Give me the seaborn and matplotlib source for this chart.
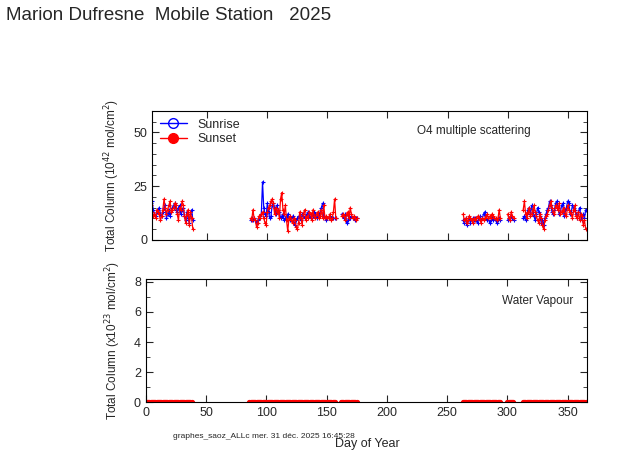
import matplotlib
matplotlib.use("Agg")
import matplotlib.pyplot as plt
import seaborn as sns
import pandas as pd
from matplotlib.ticker import MultipleLocator
from matplotlib.lines import Line2D

sns.set_style("ticks")
plt.rcParams['font.family'] = ['Liberation Sans', 'DejaVu Sans']

# day ranges of the observation periods
days = (list(range(1, 39)) + list(range(86, 158)) + list(range(162, 176))
        + list(range(263, 295)) + list(range(300, 306)) + list(range(313, 366)))
segment_starts = [1, 86, 162, 263, 300, 313]

sunrise = [2, 8, 17, 18, 14, 12, 11, 13, 14, 15, 12, 11, 13, 15, 16, 10, 12, 14, 11, 13,
           15, 16, 17, 14, 13, 15, 16, 12, 14, 15, 11, 9, 13, 10, 8, 12, 14, 9,
           9, 10, 9, 10, 9, 8, 9, 10, 11, 12, 27, 15, 12, 11, 17, 13, 10, 11, 16, 17,
           15, 12, 16, 14, 13, 10, 11, 12, 9, 10, 11, 12, 10, 9, 10, 11, 8, 7, 9, 10,
           11, 10, 9, 12, 11, 10, 11, 12, 13, 11, 10, 12, 11, 13, 12, 10, 11, 12, 13, 15,
           17, 11, 10, 9, 10, 10, 11, 10, 10, 10, 10, 10,
           12, 11, 10, 12, 8, 9, 11, 10, 11, 10, 10, 9, 10, 10,
           9, 8, 10, 7, 9, 10, 8, 9, 10, 9, 10, 9, 8, 10, 11, 9, 10, 12, 13, 10,
           9, 10, 8, 9, 10, 9, 10, 9, 8, 9, 10, 9,
           9, 10, 9, 11, 10, 9,
           10, 11, 9, 12, 14, 15, 12, 16, 13, 11, 9, 12, 15, 13, 11, 8, 9, 7, 10, 12,
           14, 15, 18, 16, 13, 12, 14, 17, 18, 15, 12, 13, 16, 17, 11, 14, 15, 18, 17, 12,
           13, 16, 15, 14, 12, 10, 13, 15, 11, 9, 12, 10, 14]
sunset = [15, 17, 16, 13, 11, 12, 10, 14, 13, 12, 9, 11, 14, 19, 15, 12, 14, 16, 18, 13,
          14, 15, 17, 16, 12, 9, 15, 14, 18, 16, 11, 8, 12, 14, 7, 13, 10, 5,
          10, 9, 14, 10, 9, 6, 8, 11, 10, 12, 13, 10, 8, 7, 13, 15, 16, 18, 19, 17,
          12, 15, 13, 14, 10, 19, 22, 14, 12, 16, 9, 4, 10, 11, 9, 8, 10, 9, 6, 5,
          8, 13, 10, 7, 12, 14, 9, 11, 10, 13, 12, 9, 14, 11, 10, 12, 13, 10, 11, 14,
          10, 16, 10, 11, 10, 10, 12, 9, 10, 13, 19, 10,
          11, 12, 11, 9, 12, 13, 10, 15, 12, 10, 11, 10, 9, 10,
          12, 9, 10, 8, 9, 11, 10, 9, 8, 10, 9, 10, 11, 10, 9, 8, 10, 9, 10, 11,
          12, 10, 11, 10, 12, 11, 10, 10, 9, 10, 14, 10,
          12, 10, 9, 13, 11, 10,
          14, 18, 12, 10, 13, 15, 11, 12, 14, 16, 13, 11, 9, 8, 12, 10, 7, 5, 9, 11,
          12, 14, 16, 18, 15, 13, 12, 16, 15, 14, 17, 12, 13, 14, 15, 12, 11, 16, 14, 13,
          12, 10, 14, 16, 11, 10, 13, 9, 12, 11, 7, 9, 5]
water_vapour = [0.0] * len(days)

df = pd.DataFrame({'day': days, 'sunrise': sunrise, 'sunset': sunset, 'wv': water_vapour})
seg = 0
segs = []
for d in df['day']:
    while seg + 1 < len(segment_starts) and d >= segment_starts[seg + 1]:
        seg += 1
    segs.append(seg)
df['seg'] = segs

fig = plt.figure(figsize=(6.23, 4.55), dpi=100)
ax1 = fig.add_axes([0.244, 0.473, 0.698, 0.283])
ax2 = fig.add_axes([0.234, 0.116, 0.708, 0.271])

for s, g in df.groupby('seg'):
    ax1.plot(g['day'], g['sunrise'], color='blue', lw=0.9, marker='+', ms=3, mew=0.8)
    ax1.plot(g['day'], g['sunset'], color='red', lw=0.9, marker='+', ms=3, mew=0.8)
    ax2.plot(g['day'], g['wv'], color='red', lw=0, marker='o', ms=2.8)

handles = [Line2D([], [], color='blue', marker='o', mfc='none', ms=7, lw=1),
           Line2D([], [], color='red', marker='o', ms=7, lw=1)]
ax1.legend(handles, ['Sunrise', 'Sunset'], loc='upper left', frameon=False, fontsize=9,
           handlelength=2.2, borderaxespad=0.2, labelspacing=0.2)
ax1.text(0.74, 0.82, 'O4 multiple scattering', transform=ax1.transAxes, ha='center', fontsize=8.5)
ax2.text(0.97, 0.8, 'Water Vapour', transform=ax2.transAxes, ha='right', fontsize=8.5)

ax1.set_xlim(4, 366)
ax1.set_ylim(0, 60)
ax1.set_yticks([0, 25, 50])
ax1.yaxis.set_minor_locator(MultipleLocator(5))
ax1.xaxis.set_major_locator(MultipleLocator(50))
ax1.set_xticklabels([])
ax1.set_ylabel('Total Column (10$^{42}$ mol/cm$^2$)', fontsize=8.5, labelpad=8)

ax2.set_xlim(0, 366)
ax2.set_ylim(0, 8.2)
ax2.set_yticks([0, 2, 4, 6, 8])
ax2.yaxis.set_minor_locator(MultipleLocator(1))
ax2.xaxis.set_major_locator(MultipleLocator(50))
ax2.set_ylabel('Total Column (x10$^{23}$ mol/cm$^2$)', fontsize=8.5, labelpad=8)

for ax in (ax1, ax2):
    ax.tick_params(which='both', direction='in', top=True, right=True, labelsize=9)
    ax.tick_params(which='major', length=5)
    ax.tick_params(which='minor', length=3)
    for sp in ax.spines.values():
        sp.set_color('black')

fig.text(0.01, 0.955, 'Marion Dufresne  Mobile Station   2025', fontsize=13.5)
fig.text(0.277, 0.037, 'graphes_saoz_ALLc mer. 31 déc. 2025 16:45:28', fontsize=6)
fig.text(0.59, 0.017, 'Day of Year', fontsize=9, ha='center')
fig.savefig('out.png', dpi=100)
